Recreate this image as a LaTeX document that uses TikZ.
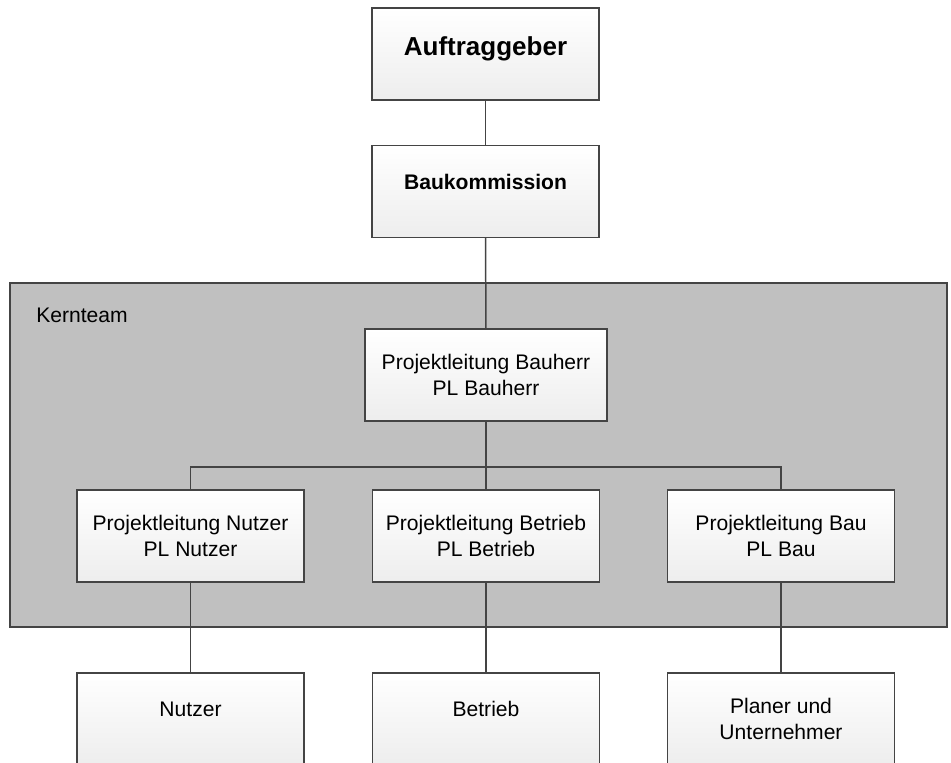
\documentclass[tikz,border=0pt]{standalone}
\usepackage{fontspec}
\setmainfont{Liberation Sans}
\definecolor{rahmen}{HTML}{444444}
\definecolor{teamgrau}{HTML}{C0C0C0}
\tikzset{
  orgbox/.style={draw=rahmen, line width=0.85pt, top color=white, bottom color=black!7,
    minimum width=4.54cm, minimum height=1.84cm, inner sep=0pt, outer sep=0pt,
    align=center, font=\fontsize{12}{14.7}\selectfont},
  hochtext/.style={text height=8.6pt, text depth=11.4pt},
  verbindung/.style={draw=rahmen, line width=0.85pt}
}
\begin{document}
\begin{tikzpicture}[x=0.02cm, y=-0.02cm]
  \useasboundingbox (0,0) rectangle (951,763);

  % Kernteam
  \node[draw=rahmen, line width=0.85pt, fill=teamgrau, minimum width=18.74cm,
        minimum height=6.88cm, inner sep=0pt] (kernteam) at (478.5,455) {};
  \node[anchor=base west, font=\fontsize{12}{14.7}\selectfont, inner sep=0pt] (kernlabel) at (36,323) {Kernteam};

  % Oben
  \node[orgbox, font=\fontsize{14.8}{17}\selectfont\bfseries, text height=10.6pt, text depth=9pt] (auftraggeber) at (485.5,54) {Auftraggeber};
  \node[orgbox, hochtext, font=\fontsize{12}{14.7}\selectfont\bfseries] (baukommission) at (485.5,191.5) {Baukommission};

  % Projektleitung
  \node[orgbox, minimum width=4.84cm] (plbauherr) at (486,375) {Projektleitung Bauherr\\PL Bauherr};
  \node[orgbox] (plnutzer) at (190.5,536) {Projektleitung Nutzer\\PL Nutzer};
  \node[orgbox] (plbetrieb) at (486,536) {Projektleitung Betrieb\\PL Betrieb};
  \node[orgbox] (plbau) at (781,536) {Projektleitung Bau\\PL Bau};

  % Unten
  \node[orgbox, hochtext] (nutzer) at (190.5,719) {Nutzer};
  \node[orgbox, hochtext] (betrieb) at (486,719) {Betrieb};
  \node[orgbox] (planer) at (781,719) {Planer und\\Unternehmer};

  % Linien
  \coordinate (bus) at (486,467);
  \draw[verbindung] (auftraggeber) -- (baukommission);
  \draw[verbindung] (baukommission) -- (plbauherr);
  \draw[verbindung] (plbauherr) -- (plbetrieb);
  \draw[verbindung] (plnutzer.north) |- (bus) -| (plbau.north);
  \draw[verbindung] (plnutzer) -- (nutzer);
  \draw[verbindung] (plbetrieb) -- (betrieb);
  \draw[verbindung] (plbau) -- (planer);
\end{tikzpicture}
\end{document}
